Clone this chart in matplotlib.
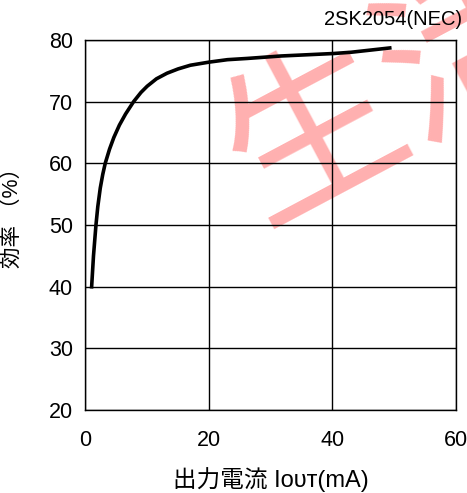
import matplotlib.pyplot as plt

plt.rcParams['font.family'] = ['Liberation Sans', 'Noto Sans CJK JP', 'DejaVu Sans']

# 出力電流 (mA) と効率 (%)
iout = [1.0, 1.3, 1.7, 2.0, 2.4, 2.8, 3.2, 3.9, 4.6, 5.5, 6.5, 7.8, 9.0, 10.0,
        11.5, 13.2, 15.0, 17.0, 20.0, 23.0, 26.2, 31.7, 36.0, 40.2, 43.0, 45.7, 49.3]
eff = [40.0, 45.0, 50.0, 53.0, 56.0, 58.2, 60.0, 62.3, 64.2, 66.2, 68.0, 70.0, 71.5, 72.5,
       73.7, 74.6, 75.3, 75.9, 76.4, 76.8, 77.0, 77.4, 77.6, 77.8, 78.0, 78.3, 78.7]

xticks = [0, 20, 40, 60]
yticks = [20, 30, 40, 50, 60, 70, 80]

fig = plt.figure(figsize=(4.67, 4.93), dpi=100)
ax = fig.add_axes([0.183, 0.168, 0.793, 0.751])

# 透かし
ax.text(0.828, 0.854, "生活", transform=ax.transAxes, fontsize=127, color='#ffb0b0',
        rotation=28, ha='center', va='center', zorder=0.5,
        family=['Noto Sans CJK JP'])

ax.plot(iout, eff, color='black', lw=2.6, zorder=3)

ax.set_xlim(0, 60)
ax.set_ylim(20, 80)
ax.set_xticks(xticks)
ax.set_yticks(yticks)
ax.grid(True, color='black', lw=1.0)
for s in ax.spines.values():
    s.set_linewidth(1.0)
ax.tick_params(length=0, labelsize=15.5)
ax.tick_params(axis='x', pad=14)
ax.tick_params(axis='y', pad=9)

ax.set_ylabel("効率 （%）", fontsize=15.5)
ax.yaxis.set_label_coords(-0.169, 0.535)
ax.set_xlabel("出力電流 Iᴏᴜᴛ(mA)", fontsize=17, labelpad=12)
fig.text(0.99, 0.96, "2SK2054(NEC)", ha='right', va='center', fontsize=14.5)

fig.savefig("out.png", dpi=100)
